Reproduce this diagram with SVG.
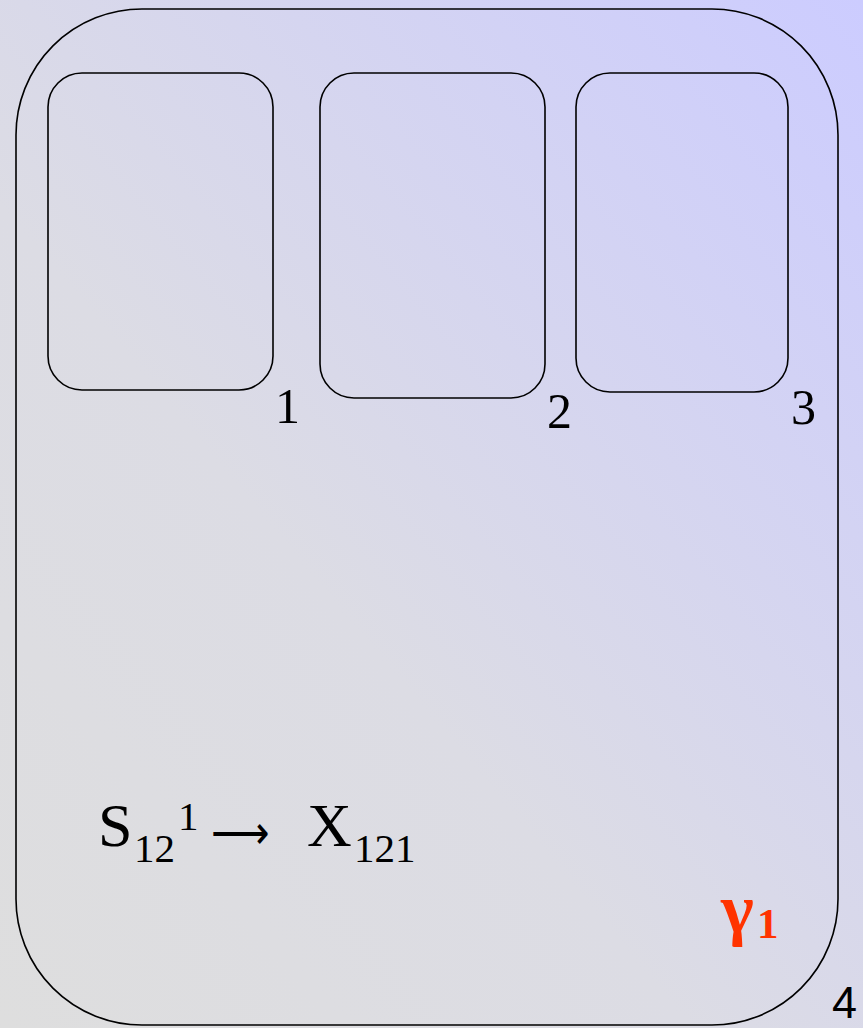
<svg xmlns="http://www.w3.org/2000/svg" width="863" height="1028" viewBox="0 0 863 1028">
  <defs>
    <linearGradient id="bg" x1="0" y1="1" x2="1" y2="0">
      <stop offset="0" stop-color="#dedede"/>
      <stop offset="0.4" stop-color="#dcdce4"/>
      <stop offset="1" stop-color="#ccccff"/>
    </linearGradient>
  </defs>
  <style>
    .box { fill: none; stroke: #000; stroke-width: 1.6; }
  </style>
  <rect x="0" y="0" width="863" height="1028" fill="url(#bg)"/>
  <g id="node4">
    <rect class="box" x="16" y="9" width="822" height="1016" rx="126" ry="126"/>
    <text x="832" y="1018" font-size="45" font-family="Liberation Sans" fill="#000">4</text>
  </g>
  <g id="node1">
    <rect class="box" x="48" y="73" width="225" height="317" rx="34" ry="34"/>
    <text x="275" y="423" font-size="50" font-family="Liberation Serif" fill="#000">1</text>
  </g>
  <g id="node2">
    <rect class="box" x="320" y="73" width="225" height="325" rx="34" ry="34"/>
    <text x="547" y="428" font-size="50" font-family="Liberation Serif" fill="#000">2</text>
  </g>
  <g id="node3">
    <rect class="box" x="576" y="73" width="212" height="319" rx="34" ry="34"/>
    <text x="791" y="424" font-size="50" font-family="Liberation Serif" fill="#000">3</text>
  </g>
  <g id="formula" fill="#000">
    <text x="98" y="846" font-size="62" font-family="Liberation Serif">S</text>
    <text x="134" y="862" font-size="41" font-family="Liberation Serif">12</text>
    <text x="178" y="830" font-size="41" font-family="Liberation Serif">1</text>
    <text x="211" y="848" font-size="45" font-family="Liberation Serif" textLength="59" lengthAdjust="spacingAndGlyphs">⟶</text>
    <text x="307" y="846" font-size="62" font-family="Liberation Serif">X</text>
    <text x="354" y="862" font-size="41" font-family="Liberation Serif">121</text>
  </g>
  <g id="gamma" fill="#ff3300" font-weight="bold">
    <text x="721" y="932" font-size="70" font-family="Liberation Serif">γ</text>
    <text x="757" y="938" font-size="43" font-family="Liberation Serif">1</text>
  </g>
  <g id="connectors"></g>
</svg>
